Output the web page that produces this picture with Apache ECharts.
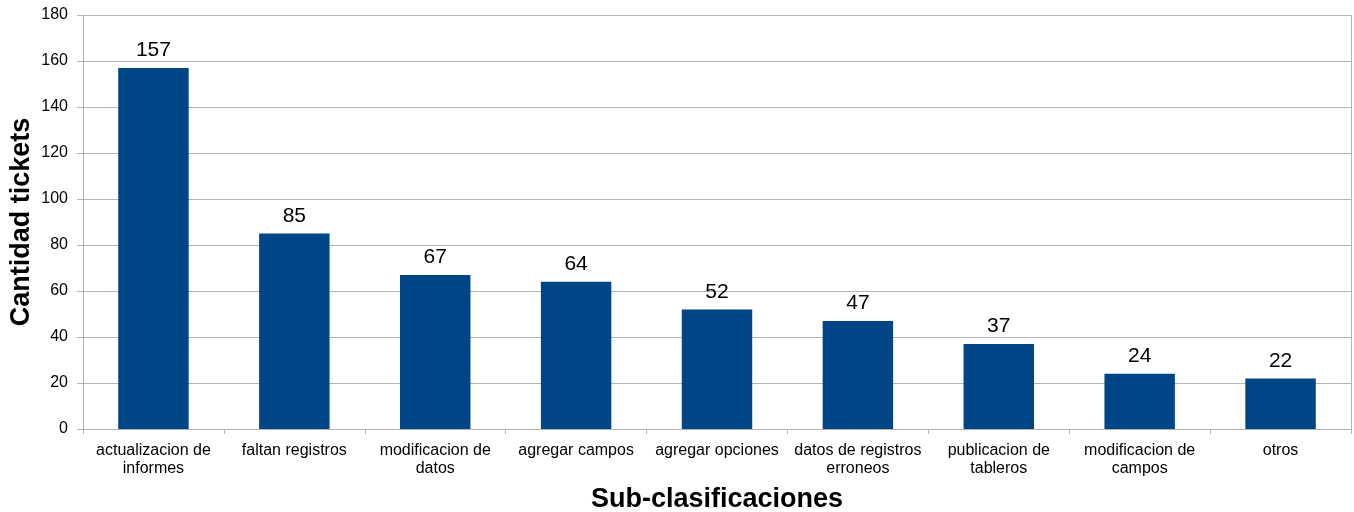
<!DOCTYPE html>
<html>
<head>
<meta charset="utf-8">
<script src="https://cdn.jsdelivr.net/npm/echarts@6/dist/echarts.min.js"></script>
<style>
  html, body { margin: 0; padding: 0; background: #fff; }
  #chart { width: 1354px; height: 512px; }
</style>
</head>
<body>
<div id="chart"></div>
<script>
// Ticket counts per sub-classification
const categories = [
  'actualizacion de\ninformes',
  'faltan registros',
  'modificacion de\ndatos',
  'agregar campos',
  'agregar opciones',
  'datos de registros\nerroneos',
  'publicacion de\ntableros',
  'modificacion de\ncampos',
  'otros'
];
const tickets = [157, 85, 67, 64, 52, 47, 37, 24, 22];

const chart = echarts.init(document.getElementById('chart'));
const font = 'Liberation Sans, Arial, sans-serif';

chart.setOption({
  animation: false,
  textStyle: { fontFamily: font },
  grid: { left: 83, right: 3, top: 15, bottom: 83, containLabel: false, outerBoundsMode: 'none' },
  xAxis: {
    type: 'category',
    data: categories,
    name: 'Sub-clasificaciones',
    nameLocation: 'middle',
    nameGap: 57,
    nameMoveOverlap: false,
    nameTextStyle: { fontSize: 27, fontWeight: 'bold', color: '#000', fontFamily: font },
    axisLine: { lineStyle: { color: '#b3b3b3', width: 1 } },
    axisTick: { show: true, alignWithLabel: false, length: 5, lineStyle: { color: '#b3b3b3' } },
    axisLabel: { fontSize: 16, color: '#000', lineHeight: 18, margin: 13, interval: 0, fontFamily: font },
    splitLine: { show: false }
  },
  yAxis: {
    type: 'value',
    min: 0,
    max: 180,
    interval: 20,
    name: 'Cantidad tickets',
    nameLocation: 'middle',
    nameGap: 48,
    nameMoveOverlap: false,
    nameTextStyle: { fontSize: 27, fontWeight: 'bold', color: '#000', fontFamily: font },
    axisLine: { show: true, lineStyle: { color: '#b3b3b3', width: 1 } },
    axisTick: { show: true, length: 6, lineStyle: { color: '#b3b3b3' } },
    axisLabel: { fontSize: 16, color: '#000', margin: 15, fontFamily: font },
    splitLine: { show: true, lineStyle: { color: '#b3b3b3', width: 1 } }
  },
  series: [{
    type: 'bar',
    data: tickets,
    barWidth: '50%',
    itemStyle: { color: '#004586' },
    label: {
      show: true,
      position: 'top',
      distance: 7,
      fontSize: 21,
      color: '#000',
      fontFamily: font
    }
  }]
});

// Right edge of the plot frame
chart.setOption({
  graphic: [{
    type: 'line',
    shape: { x1: 1351.5, y1: 15, x2: 1351.5, y2: 429 },
    style: { stroke: '#b3b3b3', lineWidth: 1 }
  }]
});
</script>
</body>
</html>
